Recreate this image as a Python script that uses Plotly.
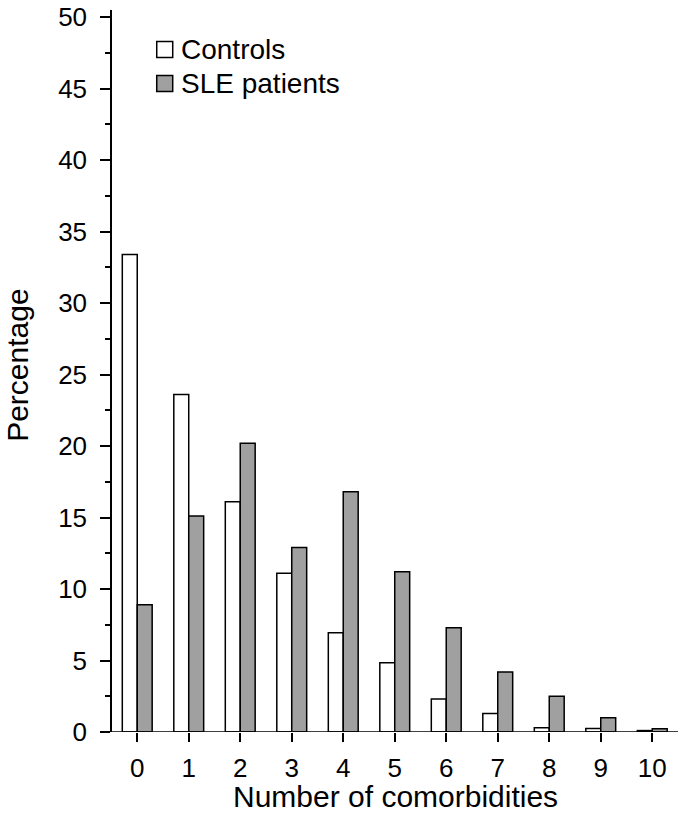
import plotly.graph_objects as go

categories = ["0", "1", "2", "3", "4", "5", "6", "7", "8", "9", "10"]
controls = [33.4, 23.6, 16.1, 11.1, 6.95, 4.85, 2.3, 1.3, 0.3, 0.25, 0.1]
sle = [8.9, 15.1, 20.2, 12.9, 16.8, 11.2, 7.3, 4.2, 2.5, 1.0, 0.22]
y_ticks = [0, 5, 10, 15, 20, 25, 30, 35, 40, 45, 50]
series_names = ["Controls", "SLE patients"]
series_colors = ["white", "#a0a0a0"]

xpos = list(range(len(categories)))
FONT = "Arial, Liberation Sans, sans-serif"

W, H = 682, 830
ML, MR, MT, MB = 111.7, 3.5, 10, 97.7
PW, PH = W - ML - MR, H - MT - MB


def px_x(px):
    return (px - ML) / PW


def px_y(py):
    return (H - MB - py) / PH


fig = go.Figure()
for name, vals, col in zip(series_names, [controls, sle], series_colors):
    fig.add_trace(go.Bar(x=xpos, y=vals, name=name, showlegend=False,
                         marker=dict(color=col, line=dict(color="black", width=1.5))))

fig.update_layout(
    width=W, height=H,
    margin=dict(l=ML, r=MR, t=MT, b=MB, autoexpand=False),
    plot_bgcolor="white", paper_bgcolor="white",
    barmode="group", bargap=0.42, bargroupgap=0,
    font=dict(family=FONT, size=26, color="black"),
    xaxis=dict(range=[-0.49, 10.5], tickmode="array", tickvals=xpos, ticktext=categories,
               ticks="outside", ticklen=9, tickwidth=1.5, tickcolor="black",
               showline=False, showgrid=False, zeroline=False, automargin=False,
               ticklabelstandoff=4),
    yaxis=dict(range=[0, 50.5], tickmode="array", tickvals=y_ticks,
               ticks="outside", ticklen=10, tickwidth=1.5, tickcolor="black",
               showline=True, linecolor="black", linewidth=1.5, automargin=False,
               showgrid=False, zeroline=False, ticklabelstandoff=8,
               minor=dict(dtick=2.5, tick0=0, ticks="outside", ticklen=5,
                          tickwidth=1.5, tickcolor="black", showgrid=False)),
)

fig.add_annotation(text="Number of comorbidities", xref="paper", yref="paper", x=0.5, y=0,
                   xanchor="center", yanchor="top", yshift=-46, showarrow=False,
                   font=dict(size=30))
fig.add_annotation(text="Percentage", xref="paper", yref="paper", x=0, y=px_y(366),
                   xanchor="center", yanchor="middle", xshift=-94, textangle=-90,
                   showarrow=False, font=dict(size=30))

# legend (boxes + labels)
legend_rows = [49.5, 83.5]
for name, col, cy in zip(series_names, series_colors, legend_rows):
    fig.add_shape(type="rect", xref="paper", yref="paper",
                  x0=px_x(156.5), x1=px_x(172.5), y0=px_y(cy + 8), y1=px_y(cy - 8),
                  fillcolor=col, line=dict(color="black", width=1.5), layer="above")
    fig.add_annotation(text=name, xref="paper", yref="paper", x=px_x(179), y=px_y(cy),
                       xanchor="left", yanchor="middle", showarrow=False,
                       font=dict(size=28))

# x-axis baseline extending slightly left of the y-axis
fig.add_shape(type="line", xref="paper", yref="y", x0=px_x(101.7), x1=1, y0=0, y1=0,
              line=dict(color="black", width=1.5), layer="above")

fig.write_html("out.html", config={"displayModeBar": False},
               post_script="document.body.style.margin='0';")
